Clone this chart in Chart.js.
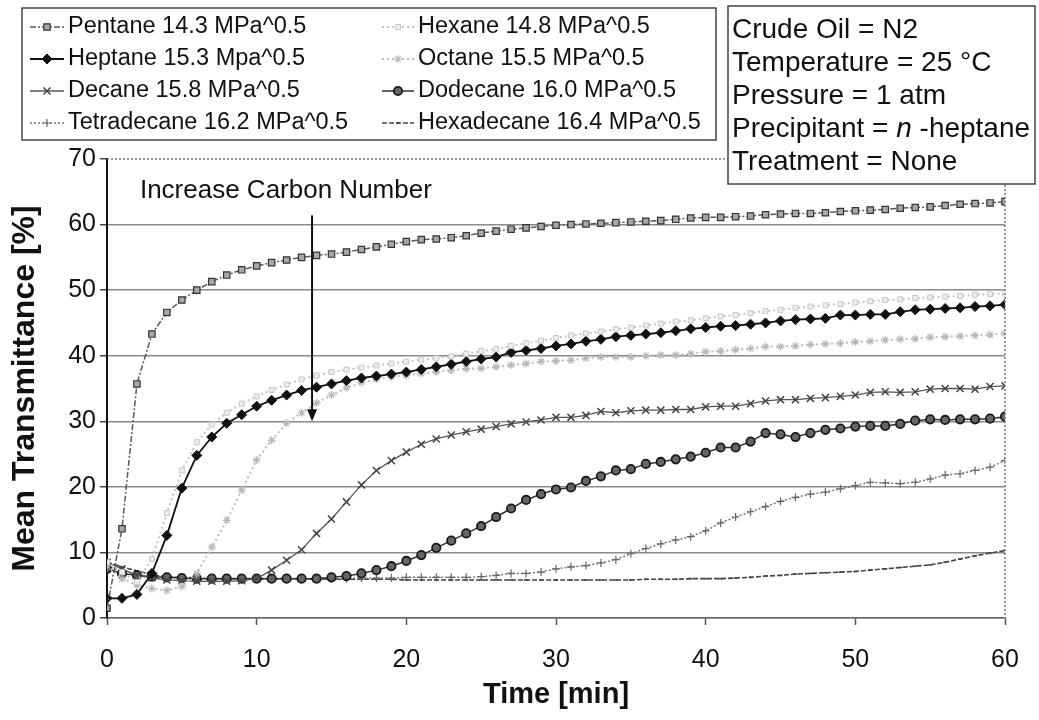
<!DOCTYPE html>
<html>
<head>
<meta charset="utf-8">
<script src="https://cdn.jsdelivr.net/npm/chart.js"></script>
<style>
  html, body { margin: 0; padding: 0; background: #fff; }
</style>
</head>
<body>
<canvas id="transmittanceChart" width="1039" height="720"></canvas>
<script>
const times = [0, 1, 2, 3, 4, 5, 6, 7, 8, 9, 10, 11, 12, 13, 14, 15, 16, 17, 18, 19, 20,
    21, 22, 23, 24, 25, 26, 27, 28, 29, 30, 31, 32, 33, 34, 35, 36, 37, 38, 39, 40,
    41, 42, 43, 44, 45, 46, 47, 48, 49, 50, 51, 52, 53, 54, 55, 56, 57, 58, 59, 60];

const pentane = [1.5, 13.6, 35.7, 43.3, 46.6, 48.5, 50.0, 51.3, 52.3, 53.1,
    53.7, 54.2, 54.6, 55.0, 55.3, 55.5, 55.8, 56.2, 56.6, 57.0,
    57.4, 57.7, 57.8, 58.0, 58.3, 58.7, 59.0, 59.3, 59.5, 59.7,
    59.9, 60.0, 60.1, 60.2, 60.3, 60.4, 60.5, 60.6, 60.8, 61.0,
    61.1, 61.1, 61.2, 61.3, 61.5, 61.6, 61.7, 61.7, 61.8, 62.0,
    62.1, 62.2, 62.3, 62.5, 62.6, 62.7, 62.9, 63.1, 63.2, 63.3,
    63.5];
const hexane = [8.5, 7.0, 5.5, 9.0, 16.0, 22.5, 26.8, 29.5, 31.3, 32.7,
    33.8, 34.8, 35.6, 36.4, 37.0, 37.5, 37.9, 38.2, 38.5, 38.8,
    39.1, 39.4, 39.6, 39.9, 40.3, 40.7, 41.0, 41.5, 41.9, 42.3,
    42.7, 43.1, 43.4, 43.7, 44.0, 44.3, 44.6, 44.9, 45.2, 45.4,
    45.7, 46.0, 46.2, 46.5, 46.8, 47.0, 47.3, 47.5, 47.7, 47.9,
    48.1, 48.3, 48.5, 48.6, 48.8, 48.9, 49.0, 49.1, 49.3, 49.4,
    49.5];
const heptane = [3.0, 3.0, 3.6, 6.8, 12.6, 19.8, 24.8, 27.6, 29.7, 31.0,
    32.3, 33.2, 34.0, 34.7, 35.2, 35.7, 36.2, 36.6, 36.9, 37.2,
    37.5, 37.9, 38.3, 38.7, 39.1, 39.5, 39.8, 40.5, 40.8, 41.1,
    41.5, 41.8, 42.2, 42.5, 42.9, 43.1, 43.3, 43.5, 43.8, 44.1,
    44.3, 44.5, 44.6, 44.8, 45.0, 45.3, 45.5, 45.6, 45.7, 46.2,
    46.2, 46.3, 46.3, 46.7, 47.0, 47.1, 47.2, 47.3, 47.5, 47.6,
    47.8];
const octane = [8.0, 6.0, 5.0, 4.5, 4.2, 4.8, 6.8, 10.8, 14.9, 19.5,
    24.1, 27.1, 29.7, 31.3, 32.8, 34.0, 35.1, 35.9, 36.4, 36.8,
    37.0, 37.3, 37.5, 37.8, 38.0, 38.1, 38.3, 38.6, 38.8, 39.1,
    39.2, 39.3, 39.6, 39.8, 39.8, 39.8, 40.0, 40.1, 40.1, 40.3,
    40.6, 40.7, 40.9, 41.1, 41.4, 41.4, 41.5, 41.7, 41.8, 41.9,
    42.1, 42.2, 42.4, 42.5, 42.6, 42.8, 42.9, 43.0, 43.1, 43.2,
    43.4];
const decane = [8.5, 7.5, 6.5, 6.1, 5.8, 5.7, 5.6, 5.6, 5.6, 5.7,
    6.0, 7.3, 8.8, 10.4, 12.9, 15.1, 17.7, 20.3, 22.5, 24.0,
    25.3, 26.5, 27.3, 27.9, 28.4, 28.8, 29.2, 29.6, 29.9, 30.2,
    30.6, 30.6, 30.9, 31.5, 31.3, 31.6, 31.7, 31.7, 31.8, 31.8,
    32.2, 32.3, 32.3, 32.7, 33.1, 33.3, 33.3, 33.5, 33.6, 33.8,
    34.0, 34.4, 34.5, 34.4, 34.5, 34.9, 35.0, 35.0, 34.9, 35.3,
    35.4];
const dodecane = [7.5, 6.8, 6.5, 6.3, 6.2, 6.1, 6.0, 6.0, 6.0, 6.0,
    6.0, 6.0, 6.0, 6.0, 6.0, 6.2, 6.4, 6.8, 7.3, 7.9,
    8.7, 9.6, 10.7, 11.8, 12.9, 14.0, 15.4, 16.7, 18.0, 18.9,
    19.6, 19.9, 20.9, 21.6, 22.5, 22.7, 23.5, 23.8, 24.2, 24.6,
    25.2, 26.0, 26.0, 26.9, 28.2, 28.0, 27.6, 28.2, 28.7, 28.9,
    29.2, 29.3, 29.3, 29.6, 30.1, 30.3, 30.2, 30.3, 30.3, 30.4,
    30.7];
const tetradecane = [8.0, 7.0, 6.5, 6.3, 6.2, 6.1, 6.0, 6.0, 6.0, 6.0,
    6.0, 6.0, 6.0, 6.0, 6.0, 6.0, 6.0, 6.1, 6.1, 6.1,
    6.2, 6.2, 6.2, 6.2, 6.2, 6.3, 6.5, 6.8, 6.8, 7.0,
    7.5, 7.8, 8.0, 8.4, 8.9, 9.8, 10.6, 11.3, 11.9, 12.4,
    13.3, 14.5, 15.4, 16.2, 17.0, 17.8, 18.4, 18.9, 19.2, 19.7,
    20.2, 20.7, 20.6, 20.5, 20.7, 21.2, 21.8, 22.0, 22.5, 23.0,
    24.0];
const hexadecane = [8.5, 7.8, 7.2, 6.6, 6.3, 6.2, 6.1, 6.0, 6.0, 6.0,
    6.0, 6.0, 6.0, 6.0, 5.9, 5.9, 5.9, 5.9, 5.9, 5.9,
    5.8, 5.8, 5.8, 5.8, 5.8, 5.8, 5.8, 5.8, 5.8, 5.8,
    5.8, 5.8, 5.8, 5.8, 5.8, 5.8, 5.9, 5.9, 5.9, 6.0,
    6.0, 6.0, 6.1, 6.2, 6.4, 6.5, 6.7, 6.8, 6.9, 7.0,
    7.1, 7.3, 7.5, 7.7, 7.9, 8.1, 8.5, 9.0, 9.5, 9.9,
    10.3];

const seriesLabels = [
    'Pentane 14.3 MPa^0.5', 'Hexane 14.8 MPa^0.5',
    'Heptane 15.3 Mpa^0.5', 'Octane 15.5 MPa^0.5',
    'Decane 15.8 MPa^0.5', 'Dodecane 16.0 MPa^0.5',
    'Tetradecane 16.2 MPa^0.5', 'Hexadecane 16.4 MPa^0.5'
];
const xTicks = [0, 10, 20, 30, 40, 50, 60];
const yTicks = [0, 10, 20, 30, 40, 50, 60, 70];
const conditions = ['Crude Oil = N2', 'Temperature = 25 °C', 'Pressure = 1 atm',
    'Precipitant = |n| -heptane', 'Treatment = None'];
const annotationText = 'Increase Carbon Number';

const FONT = "'Liberation Sans', Arial, Helvetica, sans-serif";

function serie(label, values, style) {
    return Object.assign({
        label: label,
        data: times.map((t, i) => ({x: t, y: values[i]})),
        tension: 0,
        fill: false
    }, style);
}

const datasets = [
    serie(seriesLabels[0], pentane, {
        borderColor: '#5a5a5a', borderWidth: 1.5, borderDash: [6, 2, 2, 2],
        pointStyle: 'rect', pointRadius: 4.5, pointBackgroundColor: '#a8a8a8',
        pointBorderColor: '#333', pointBorderWidth: 1.2
    }),
    serie(seriesLabels[1], hexane, {
        borderColor: '#c4c4c4', borderWidth: 2, borderDash: [2, 3],
        pointStyle: 'rect', pointRadius: 3.5, pointBackgroundColor: '#eeeeee',
        pointBorderColor: '#c8c8c8', pointBorderWidth: 1
    }),
    serie(seriesLabels[2], heptane, {
        borderColor: '#111', borderWidth: 1.8,
        pointStyle: 'rectRot', pointRadius: 5, pointBackgroundColor: '#111',
        pointBorderColor: '#111', pointBorderWidth: 1
    }),
    serie(seriesLabels[3], octane, {
        borderColor: '#bdbdbd', borderWidth: 2, borderDash: [2, 3],
        pointStyle: 'star', pointRadius: 4, pointBackgroundColor: '#ddd',
        pointBorderColor: '#b8b8b8', pointBorderWidth: 1.2
    }),
    serie(seriesLabels[4], decane, {
        borderColor: '#555', borderWidth: 1.3,
        pointStyle: 'crossRot', pointRadius: 5, pointBackgroundColor: '#555',
        pointBorderColor: '#444', pointBorderWidth: 1.5
    }),
    serie(seriesLabels[5], dodecane, {
        borderColor: '#333', borderWidth: 1.5,
        pointStyle: 'circle', pointRadius: 4.2, pointBackgroundColor: '#666',
        pointBorderColor: '#1a1a1a', pointBorderWidth: 1.8
    }),
    serie(seriesLabels[6], tetradecane, {
        borderColor: '#777', borderWidth: 1.5, borderDash: [2, 2],
        pointStyle: 'cross', pointRadius: 4, pointBackgroundColor: '#666',
        pointBorderColor: '#666', pointBorderWidth: 1.2
    }),
    serie(seriesLabels[7], hexadecane, {
        borderColor: '#444', borderWidth: 1.6, borderDash: [5, 2],
        pointStyle: 'line', pointRadius: 2, pointBackgroundColor: '#444',
        pointBorderColor: '#444', pointBorderWidth: 1.5
    })
];

function markerAt(ctx, ds, px, py) {
    ctx.save();
    ctx.fillStyle = ds.pointBackgroundColor;
    ctx.strokeStyle = ds.pointBorderColor;
    ctx.lineWidth = ds.pointBorderWidth;
    if (Chart.helpers && Chart.helpers.drawPoint) {
        Chart.helpers.drawPoint(ctx, {
            pointStyle: ds.pointStyle, radius: ds.pointRadius,
            rotation: 0, borderWidth: ds.pointBorderWidth
        }, px, py);
    }
    ctx.restore();
}

const extrasPlugin = {
    id: 'extras',
    afterDatasetsDraw(chart) {
        const ctx = chart.ctx;
        const a = chart.chartArea;
        const xs = chart.scales.x, ys = chart.scales.y;
        ctx.save();
        ctx.strokeStyle = '#777';
        ctx.lineWidth = 1.5;
        ctx.setLineDash([2, 2]);
        ctx.beginPath();
        ctx.moveTo(a.left, a.top);
        ctx.lineTo(a.right, a.top);
        ctx.lineTo(a.right, a.bottom);
        ctx.stroke();
        ctx.setLineDash([]);

        // annotation + arrow
        ctx.fillStyle = '#111';
        ctx.font = '26px ' + FONT;
        ctx.textBaseline = 'middle';
        ctx.fillText(annotationText, xs.getPixelForValue(2.2), ys.getPixelForValue(65.2));
        const ax = xs.getPixelForValue(13.7);
        const top = ys.getPixelForValue(61.4);
        const tip = ys.getPixelForValue(30.0);
        ctx.strokeStyle = '#111';
        ctx.lineWidth = 2;
        ctx.beginPath();
        ctx.moveTo(ax, top);
        ctx.lineTo(ax, tip - 10);
        ctx.stroke();
        ctx.beginPath();
        ctx.moveTo(ax - 5, tip - 12);
        ctx.lineTo(ax + 5, tip - 12);
        ctx.lineTo(ax, tip);
        ctx.closePath();
        ctx.fill();
        ctx.restore();
    },
    afterDraw(chart) {
        const ctx = chart.ctx;
        ctx.save();
        // legend box
        ctx.fillStyle = '#fff';
        ctx.fillRect(22, 8, 694, 132);
        ctx.strokeStyle = '#444';
        ctx.lineWidth = 1.5;
        ctx.strokeRect(22, 8, 694, 132);
        ctx.font = '23.5px ' + FONT;
        ctx.textBaseline = 'middle';
        const rows = [27, 59, 91, 123];
        const cols = [{l0: 30, l1: 64, tx: 68}, {l0: 382, l1: 414, tx: 418}];
        chart.data.datasets.forEach((ds, i) => {
            const c = cols[i % 2];
            const ry = rows[Math.floor(i / 2)];
            ctx.save();
            ctx.strokeStyle = ds.borderColor;
            ctx.lineWidth = ds.borderWidth;
            ctx.setLineDash(ds.borderDash || []);
            ctx.beginPath();
            ctx.moveTo(c.l0, ry);
            ctx.lineTo(c.l1, ry);
            ctx.stroke();
            ctx.restore();
            markerAt(ctx, ds, (c.l0 + c.l1) / 2, ry);
            ctx.fillStyle = '#111';
            ctx.fillText(ds.label, c.tx, ry);
        });

        // conditions box
        ctx.fillStyle = '#fff';
        ctx.fillRect(728, 6, 307, 178);
        ctx.strokeRect(728, 6, 307, 178);
        ctx.fillStyle = '#111';
        conditions.forEach((line, i) => {
            const yy = 30 + i * 33;
            let xx = 732;
            line.split('|').forEach((part, j) => {
                ctx.font = (j === 1 ? 'italic ' : '') + '28px ' + FONT;
                ctx.fillText(part, xx, yy);
                xx += ctx.measureText(part).width;
            });
        });
        ctx.restore();
    }
};

function buildChart() {
    const ctx = document.getElementById('transmittanceChart').getContext('2d');
    new Chart(ctx, {
        type: 'line',
        data: {datasets: datasets},
        options: {
            responsive: false,
            animation: false,
            devicePixelRatio: 1,
            layout: {padding: {top: 159, right: 34, left: 0, bottom: 0}},
            plugins: {legend: {display: false}, tooltip: {enabled: false}},
            scales: {
                x: {
                    type: 'linear', min: 0, max: 60,
                    afterFit: s => { s.height = 102; },
                    afterBuildTicks: s => { s.ticks = xTicks.map(v => ({value: v})); },
                    ticks: {color: '#111', font: {family: FONT, size: 25}, padding: 20},
                    grid: {drawOnChartArea: false, tickLength: 7, tickColor: '#555', tickWidth: 1.5},
                    border: {color: '#666', width: 1.5},
                    title: {display: true, text: 'Time [min]', color: '#111',
                        font: {family: FONT, size: 29, weight: 'bold'}, padding: {top: 0, bottom: 8}}
                },
                y: {
                    min: 0, max: 70,
                    afterFit: s => { s.width = 107; },
                    afterBuildTicks: s => { s.ticks = yTicks.map(v => ({value: v})); },
                    ticks: {color: '#111', font: {family: FONT, size: 25}, padding: 4},
                    grid: {
                        color: c => (c.tick && c.tick.value === 70) ? 'rgba(0,0,0,0)' : '#8a8a8a',
                        lineWidth: 1.5, tickLength: 7, tickColor: '#444'
                    },
                    border: {color: '#111', width: 2},
                    title: {display: true, text: 'Mean Transmittance [%]', color: '#111',
                        font: {family: FONT, size: 32, weight: 'bold'}, padding: {top: 6, bottom: 0}}
                }
            }
        },
        plugins: [extrasPlugin]
    });
}

buildChart();
</script>
</body>
</html>
